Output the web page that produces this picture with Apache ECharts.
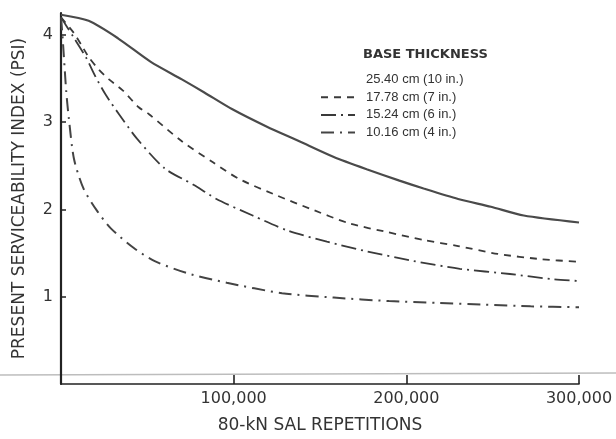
<!DOCTYPE html>
<html>
<head>
<meta charset="utf-8">
<script src="https://cdn.jsdelivr.net/npm/echarts@6/dist/echarts.min.js"></script>
<style>html,body{margin:0;padding:0;background:#fff}#c{width:616px;height:439px}</style>
</head>
<body>
<div id="c"></div>
<script>
// Series names (legend)
const seriesNames = ['25.40 cm (10 in.)', '17.78 cm (7 in.)', '15.24 cm (6 in.)', '10.16 cm (4 in.)'];
const legendTitle = 'BASE THICKNESS';
const xTicks = [0, 100000, 200000, 300000];
const yTicks = [0, 1, 2, 3, 4];

// 25.40 cm (10 in.)
const reps10 = [0, 16000, 33000, 52000, 70000, 83000, 99000, 119000, 138000, 158000, 177000, 196000, 210000, 230000, 249000, 268000, 300000];
const psi10  = [4.23, 4.16, 3.96, 3.69, 3.49, 3.34, 3.15, 2.95, 2.78, 2.60, 2.46, 2.33, 2.24, 2.12, 2.03, 1.93, 1.85];
// 17.78 cm (7 in.)
const reps7 = [0, 7500, 11600, 16200, 22000, 27800, 35900, 45000, 51000, 70000, 88000, 103000, 125000, 144000, 167000, 189000, 210000, 230000, 253000, 278000, 300000];
const psi7  = [4.2, 4.02, 3.89, 3.74, 3.60, 3.49, 3.36, 3.17, 3.09, 2.78, 2.54, 2.35, 2.16, 2.01, 1.84, 1.74, 1.65, 1.58, 1.49, 1.43, 1.40];
// 15.24 cm (6 in.)
const reps6 = [0, 7000, 14500, 20000, 26000, 33600, 44000, 60000, 77000, 90000, 111000, 131000, 154000, 177000, 204000, 231000, 260000, 285000, 300000];
const psi6  = [4.2, 3.98, 3.74, 3.52, 3.31, 3.09, 2.81, 2.47, 2.28, 2.12, 1.93, 1.76, 1.63, 1.52, 1.41, 1.32, 1.26, 1.20, 1.18];
// 10.16 cm (4 in.)
const reps4 = [0, 1000, 3000, 4500, 7500, 13000, 21000, 29000, 42000, 54000, 73000, 96000, 128000, 158000, 190000, 218000, 245000, 272000, 300000];
const psi4  = [4.2, 3.95, 3.36, 3.05, 2.58, 2.24, 1.98, 1.78, 1.56, 1.41, 1.27, 1.16, 1.04, 0.99, 0.95, 0.93, 0.91, 0.89, 0.88];

const zip = (xs, ys) => xs.map((x, i) => [x, ys[i]]);
const fmt = v => String(v).replace(/\B(?=(\d{3})+(?!\d))/g, ',');

const chart = echarts.init(document.getElementById('c'), null, {renderer: 'canvas'});
const lineBase = {type: 'line', showSymbol: false, symbol: 'none', smooth: 0.25, animation: false};

chart.setOption({
  backgroundColor: '#fff',
  animation: false,
  grid: {left: 61, right: 37, top: 13, bottom: 52},
  title: {
    text: legendTitle, left: 363, top: 48, padding: 0,
    textStyle: {fontFamily: 'DejaVu Sans', fontSize: 13, fontWeight: 'bold', color: '#333'}
  },
  legend: {
    orient: 'vertical', left: 320, top: 73, padding: 0,
    itemWidth: 34, itemHeight: 12, itemGap: 4.7,
    itemStyle: {opacity: 0},
    textStyle: {fontFamily: 'Liberation Sans', fontSize: 13, color: '#333', padding: [0, 0, 0, 6]},
    data: [
      {name: seriesNames[0], lineStyle: {opacity: 0}},
      {name: seriesNames[1]},
      {name: seriesNames[2]},
      {name: seriesNames[3]}
    ]
  },
  xAxis: {
    type: 'value', min: xTicks[0], max: xTicks[xTicks.length - 1], interval: xTicks[1] - xTicks[0],
    name: '80-kN SAL REPETITIONS', nameLocation: 'middle', nameGap: 33,
    nameTextStyle: {fontFamily: 'DejaVu Sans', fontSize: 17, color: '#333'},
    axisLine: {lineStyle: {color: '#222', width: 1.6}},
    axisTick: {inside: true, length: 9, lineStyle: {color: '#222', width: 1.6}},
    axisLabel: {fontFamily: 'DejaVu Sans', fontSize: 16, color: '#333', margin: 7, showMinLabel: false, formatter: fmt},
    splitLine: {show: false}
  },
  yAxis: {
    type: 'value', min: yTicks[0], max: 4.25, interval: 1,
    name: 'PRESENT SERVICEABILITY INDEX (PSI)', nameLocation: 'middle', nameGap: 33,
    nameTextStyle: {fontFamily: 'DejaVu Sans', fontSize: 17, color: '#333'},
    axisLine: {lineStyle: {color: '#222', width: 2.2}},
    axisTick: {inside: true, length: 5, lineStyle: {color: '#222', width: 1.5}},
    axisLabel: {fontFamily: 'DejaVu Sans', fontSize: 16, color: '#333', margin: 8, showMinLabel: false, showMaxLabel: false},
    splitLine: {show: false}
  },
  graphic: [
    {type: 'line', z: -1, silent: true, shape: {x1: 0, y1: 375, x2: 616, y2: 373}, style: {stroke: '#bdbdbd', lineWidth: 1.5}}
  ],
  series: [
    Object.assign({}, lineBase, {name: seriesNames[0], data: zip(reps10, psi10),
      lineStyle: {color: '#4a4a4a', width: 2.2, type: 'solid'}, itemStyle: {color: '#4a4a4a'}}),
    Object.assign({}, lineBase, {name: seriesNames[1], data: zip(reps7, psi7),
      lineStyle: {color: '#3a3a3a', width: 1.8, type: [7, 6]}, itemStyle: {color: '#3a3a3a'}}),
    Object.assign({}, lineBase, {name: seriesNames[2], data: zip(reps6, psi6),
      lineStyle: {color: '#3a3a3a', width: 1.8, type: [15, 5, 2, 5]}, itemStyle: {color: '#3a3a3a'}}),
    Object.assign({}, lineBase, {name: seriesNames[3], data: zip(reps4, psi4),
      lineStyle: {color: '#444', width: 2, type: [13, 6, 2, 6]}, itemStyle: {color: '#444'}})
  ]
});
</script>
</body>
</html>
